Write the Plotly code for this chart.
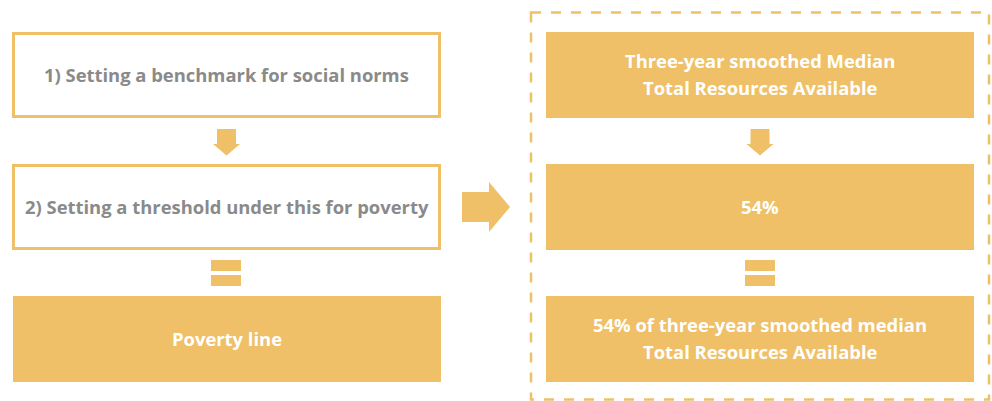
import plotly.graph_objects as go

# ---- content ----
left_labels = ["1) Setting a benchmark for social norms",
               "2) Setting a threshold under this for poverty",
               "Poverty line"]
right_labels = [["Three-year smoothed Median", "Total Resources Available"],
                ["54%"],
                ["54% of three-year smoothed median", "Total Resources Available"]]

# ---- styles ----
GOLD = "#EFC067"
GREY = "#8A8A8A"
FONT = "Open Sans"
FS = 18.4
W, H = 992, 401

# ---- geometry (pixel space) ----
LX0, LX1 = 12, 441
RX0, RX1 = 546, 974
ROWS = [(32, 118), (164, 250), (296, 382)]
LINE_GAP = 26.5
TEXT_DY = -1

fig = go.Figure()
shapes = []
annotations = []

def rect(x0, y0, x1, y1, fill=None, line=None, lw=0, dash=None):
    d = dict(type="rect", xref="x", yref="y", x0=x0, x1=x1, y0=y0, y1=y1, layer="below")
    d["fillcolor"] = fill if fill else "rgba(0,0,0,0)"
    ln = dict(width=lw)
    if line:
        ln["color"] = line
    if dash:
        ln["dash"] = dash
    d["line"] = ln
    shapes.append(d)

def path(pts, fill):
    p = "M " + " L ".join(f"{x},{y}" for x, y in pts) + " Z"
    shapes.append(dict(type="path", xref="x", yref="y", path=p, fillcolor=fill,
                       line=dict(width=0), layer="below"))

def text(x, y, s, color):
    annotations.append(dict(x=x, y=y + TEXT_DY, xref="x", yref="y", text=f"<b>{s}</b>", showarrow=False,
                            font=dict(family=FONT, size=FS, color=color),
                            xanchor="center", yanchor="middle"))

# dashed container
rect(531, 12.5, 989, 399.5, line=GOLD, lw=2.5, dash="10px,10px")

# left column
for i, (y0, y1) in enumerate(ROWS):
    cx = (LX0 + LX1) / 2
    cy = (y0 + y1) / 2
    if i < 2:
        rect(LX0 + 1.5, y0 + 1.5, LX1 - 1.5, y1 - 1.5, fill="white", line=GOLD, lw=3)
        text(cx, cy, left_labels[i], GREY)
    else:
        rect(LX0 + 1, y0, LX1, y1, fill=GOLD)
        text(cx, cy, left_labels[i], "white")

# right column
for i, (y0, y1) in enumerate(ROWS):
    rect(RX0, y0, RX1, y1, fill=GOLD)
    cx = (RX0 + RX1) / 2
    cy = (y0 + y1) / 2
    lines = right_labels[i]
    n = len(lines)
    for j, s in enumerate(lines):
        text(cx, cy + (j - (n - 1) / 2) * LINE_GAP, s, "white")

# down arrows
for cx in [(LX0 + LX1) / 2, (RX0 + RX1) / 2]:
    path([(cx - 9.5, 129), (cx + 9.5, 129), (cx + 9.5, 144), (cx + 13.5, 144),
          (cx, 155.5), (cx - 13.5, 144), (cx - 9.5, 144)], GOLD)

# equals signs
for cx in [(LX0 + LX1) / 2 - 0.5, (RX0 + RX1) / 2]:
    rect(cx - 15, 260, cx + 15, 271, fill=GOLD)
    rect(cx - 15, 275, cx + 15, 286, fill=GOLD)

# right arrow
path([(462, 192), (489, 192), (489, 182), (510, 207), (489, 232), (489, 222), (462, 222)], GOLD)

fig.update_layout(
    width=W, height=H,
    margin=dict(l=0, r=0, t=0, b=0),
    paper_bgcolor="white", plot_bgcolor="white",
    xaxis=dict(range=[0, W], visible=False, fixedrange=True),
    yaxis=dict(range=[H, 0], visible=False, fixedrange=True),
    shapes=shapes, annotations=annotations,
    showlegend=False,
)
fig.write_html("out.html", config={"displayModeBar": False},
               post_script="document.body.style.margin='0';document.body.style.overflow='hidden';")
